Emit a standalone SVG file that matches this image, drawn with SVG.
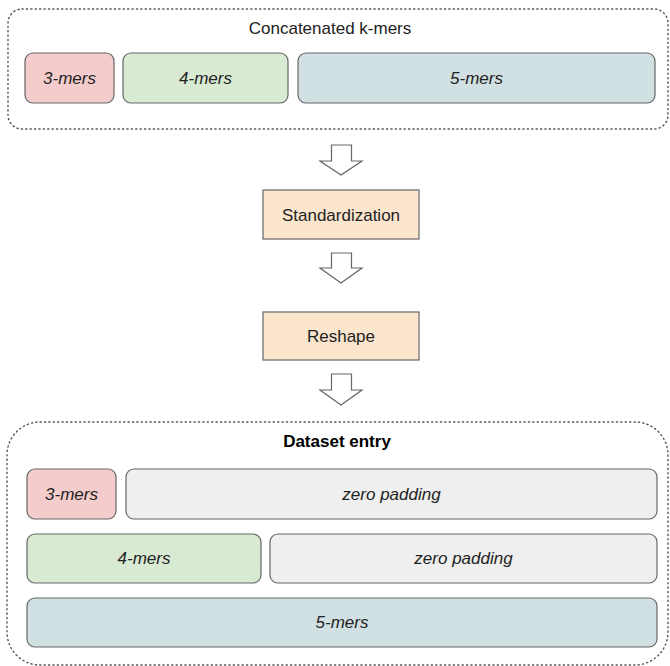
<svg xmlns="http://www.w3.org/2000/svg" width="670" height="666" viewBox="0 0 670 666">
<style>
.cont{fill:none;stroke:#555;stroke-width:1.4;stroke-dasharray:1.2 3.2;stroke-linecap:round}
.box{stroke:#666;stroke-width:1.2}
.k3{fill:#f4cccc}.k4{fill:#d9ead3}.k5{fill:#d0e0e3}.zp{fill:#efefef}.op{fill:#fce5cd;stroke:#666;stroke-width:1.2}
.lab{font-family:"Liberation Sans",Arial,sans-serif;font-size:17px;fill:#222;text-anchor:middle}
.it{font-style:italic}
.b{font-weight:bold;fill:#000}
.arr{fill:#fff;stroke:#666;stroke-width:1.2;stroke-linejoin:miter}
</style>
<g id="concatenated">
<rect class="cont" x="8" y="9" width="660" height="120" rx="14"/>
<text class="lab" x="330" y="34">Concatenated k-mers</text>
</g>
<g id="c3"><rect class="box k3" x="25" y="53" width="89" height="50" rx="8"/><text class="lab it" x="69.5" y="84">3-mers</text></g>
<g id="c4"><rect class="box k4" x="123" y="53" width="165" height="50" rx="8"/><text class="lab it" x="205.5" y="84">4-mers</text></g>
<g id="c5"><rect class="box k5" x="298" y="53" width="357" height="50" rx="8"/><text class="lab it" x="476.5" y="84">5-mers</text></g>
<g id="standardization"><rect class="op" x="263" y="190" width="156" height="49"/><text class="lab" x="341" y="220.5">Standardization</text></g>
<g id="reshape"><rect class="op" x="263" y="312" width="156" height="48"/><text class="lab" x="341" y="342">Reshape</text></g>
<g id="connectors">
<path class="arr" d="M331.5,145 H351.5 V161 H362 L341,175 L320,161 H331.5 Z"/>
<path class="arr" d="M331.5,253 H351.5 V268 H362 L341,283 L320,268 H331.5 Z"/>
<path class="arr" d="M331.5,374 H351.5 V390 H362 L341,405 L320,390 H331.5 Z"/>
</g>
<g id="dataset">
<rect class="cont" x="7" y="422" width="661" height="243" rx="33"/>
<text class="lab b" x="337" y="447">Dataset entry</text>
</g>
<g id="d3"><rect class="box k3" x="27" y="469" width="89" height="50" rx="8"/><text class="lab it" x="71.5" y="500">3-mers</text></g>
<g id="dz1"><rect class="box zp" x="126" y="469" width="531" height="50" rx="8"/><text class="lab it" x="391.5" y="500">zero padding</text></g>
<g id="d4"><rect class="box k4" x="27" y="534" width="234" height="49" rx="8"/><text class="lab it" x="144" y="564">4-mers</text></g>
<g id="dz2"><rect class="box zp" x="270" y="534" width="387" height="49" rx="8"/><text class="lab it" x="463.5" y="564">zero padding</text></g>
<g id="d5"><rect class="box k5" x="27" y="598" width="630" height="49" rx="8"/><text class="lab it" x="342" y="628">5-mers</text></g>
</svg>
